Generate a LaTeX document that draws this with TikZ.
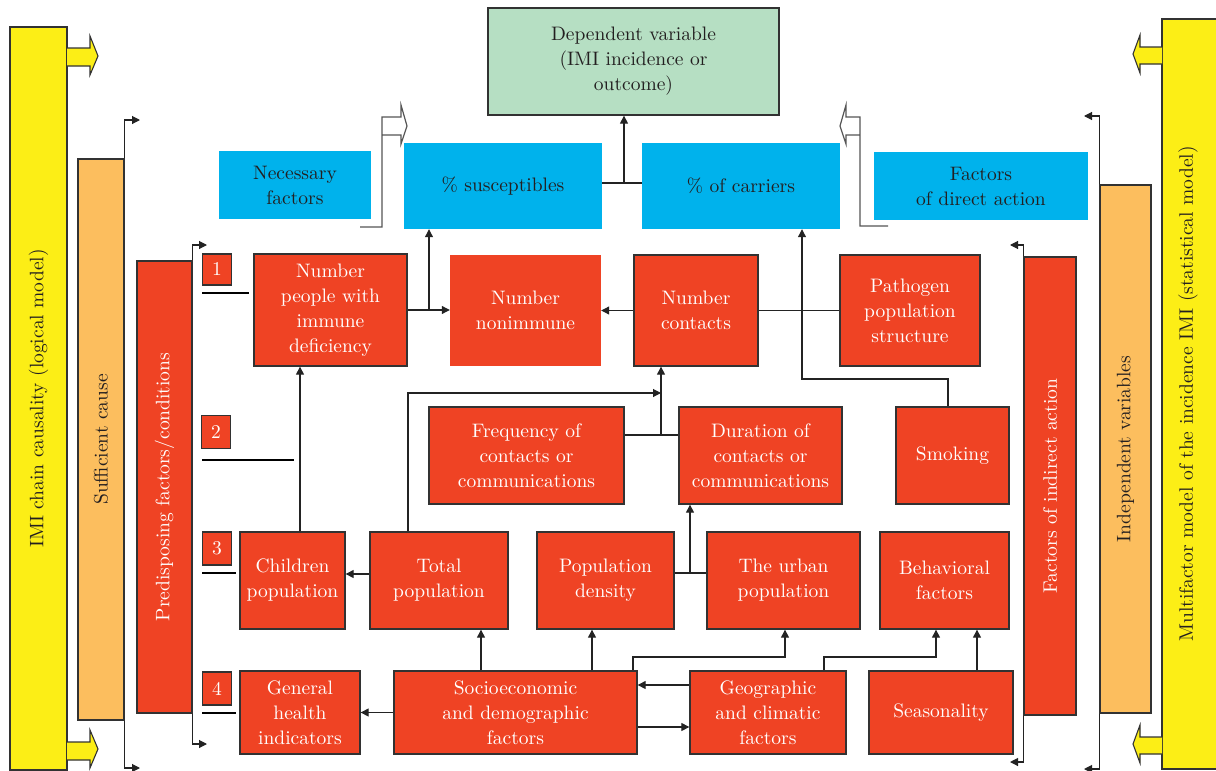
\documentclass[tikz,border=0pt]{standalone}
\usepackage{fontspec}
\setmainfont{lmroman10}[Extension=.otf, UprightFont=*-regular, BoldFont=*-bold, ItalicFont=*-italic, BoldItalicFont=*-bolditalic]
\usetikzlibrary{arrows.meta}
\definecolor{myred}{RGB}{239,67,36}
\definecolor{myblue}{RGB}{0,178,236}
\definecolor{myorange}{RGB}{252,190,94}
\definecolor{myyellow}{RGB}{252,238,22}
\definecolor{mygreen}{RGB}{182,223,195}
\definecolor{bordercol}{RGB}{50,50,50}
\definecolor{linecol}{RGB}{35,35,35}
\definecolor{txtdark}{RGB}{35,31,32}
\definecolor{hollowcol}{RGB}{85,85,85}
\newcommand\fs{\fontsize{19.5}{25}\selectfont}
\tikzset{
  box/.style={draw=bordercol, line width=1.3pt, inner sep=1pt, align=center, font=\fs},
  redbox/.style={box, fill=myred, text=white},
  rednb/.style={fill=myred, text=white, inner sep=1pt, align=center, font=\fs},
  bluebox/.style={fill=myblue, text=txtdark, inner sep=1pt, align=center, font=\fs},
  greenbox/.style={box, fill=mygreen, text=txtdark},
  bar/.style={draw=bordercol, line width=1.3pt, inner sep=0pt},
  conn/.style={draw=linecol, line width=1.1pt},
  arr/.style={conn, -{Triangle[length=8pt,width=8pt]}},
  uline/.style={draw=black, line width=2.6pt},
  hollow/.style={draw=hollowcol, line width=1.2pt, line join=miter},
  fat/.style={draw=bordercol, line width=1.1pt, fill=myyellow},
  vtext/.style={rotate=90, font=\fs, align=center}
}
\begin{document}
\begin{tikzpicture}[x=1pt,y=-1pt]
\useasboundingbox (0,0) rectangle (1216,771);

% ---- side bars ----
\node[bar, fill=myyellow, minimum width=57pt, minimum height=743pt] (ylL) at (38.5,398.5) {};
\node[vtext, text=txtdark] at (ylL.center) {IMI chain causality (logical model)};
\node[bar, fill=myorange, minimum width=46pt, minimum height=561pt] (orL) at (101,439.5) {};
\node[vtext, text=txtdark] at (orL.center) {Sufficient cause};
\node[bar, fill=myred, minimum width=55pt, minimum height=452pt] (rdL) at (164.5,487) {};
\node[vtext, text=white] at (rdL.center) {Predisposing factors/conditions};

\node[bar, fill=myred, minimum width=52pt, minimum height=458pt] (rdR) at (1050,486) {};
\node[vtext, text=white] at (rdR.center) {Factors of indirect action};
\node[bar, fill=myorange, minimum width=51pt, minimum height=528pt] (orR) at (1125.5,449) {};
\node[vtext, text=txtdark] at (orR.center) {Independent variables};
\node[bar, fill=myyellow, minimum width=58pt, minimum height=750pt] (ylR) at (1191,394) {};
\node[vtext, text=txtdark] at (1188,394) {Multifactor model of the incidence IMI (statistical model)};

% ---- fat yellow arrows ----
\draw[fat] (67,48) -- (90,48) -- (90,36) -- (98,56) -- (90,75) -- (90,66) -- (67,66);
\draw[fat] (67,742) -- (90,742) -- (90,730) -- (98,749) -- (90,768) -- (90,760) -- (67,760);
\draw[fat] (1162,47) -- (1140,47) -- (1140,35) -- (1133,54) -- (1140,73) -- (1140,64) -- (1162,64);
\draw[fat] (1162,737) -- (1140,737) -- (1140,725) -- (1133,744) -- (1140,763) -- (1140,754) -- (1162,754);

% ---- bracket arrows ----
\draw[arr] (orL.north east) |- (140,120);
\draw[arr] (orL.south east) |- (140,768);
\draw[arr] (rdL.north east) |- (207,245);
\draw[arr] (rdL.south east) |- (207,744);
\draw[arr] (rdR.north west) |- (1010,245);
\draw[arr] (rdR.south west) |- (1010,762);
\draw[arr] (orR.north west) |- (1084,116);
\draw[arr] (orR.south west) |- (1084,769);

% ---- top boxes ----
\node[greenbox, minimum width=291pt, minimum height=107pt] (dep) at (633.5,61.5) {Dependent variable\\(IMI incidence or\\outcome)};
\node[bluebox, minimum width=152pt, minimum height=68pt] (nec) at (295,185) {Necessary\\factors};
\node[bluebox, minimum width=198pt, minimum height=86pt] (sus) at (503,186) {\% susceptibles};
\node[bluebox, minimum width=198pt, minimum height=86pt] (car) at (741,186) {\% of carriers};
\node[bluebox, minimum width=214pt, minimum height=68pt] (dir) at (981,186) {Factors\\of direct action};

% hollow arrows
\coordinate (hn) at (382,227);
\draw[hollow] (360,227) -- (hn) -- (382,117) -- (401,117) -- (401,105) -- (407,126) -- (401,144) -- (401,135) -- (382,135);
\coordinate (hd) at (860,226);
\draw[hollow] (888,226) -- (hd) -- (860,117) -- (846,117) -- (846,105) -- (840,126) -- (846,144) -- (846,135) -- (860,135);

% ---- numbers ----
\node[redbox, minimum width=29pt, minimum height=31pt] (n1) at (217,269.5) {1};
\node[redbox, minimum width=29pt, minimum height=33pt] (n2) at (216,432) {2};
\node[redbox, minimum width=29pt, minimum height=33pt] (n3) at (217,548.5) {3};
\node[redbox, minimum width=29pt, minimum height=33pt] (n4) at (217,688.5) {4};
\draw[uline] (202,293) -- (249,293);
\draw[uline] (202,460) -- (294,460);
\draw[uline] (202,573) -- (236,573);
\draw[uline] (202,713) -- (236,713);

% ---- row 1 ----
\node[redbox, minimum width=153pt, minimum height=112pt] (imm) at (330.5,310) {Number\\people with\\immune\\deficiency};
\node[rednb, minimum width=151pt, minimum height=111pt] (non) at (525.5,310.5) {Number\\nonimmune};
\node[redbox, minimum width=124pt, minimum height=111pt] (con) at (696,310.5) {Number\\contacts};
\node[redbox, minimum width=140pt, minimum height=111pt] (pat) at (910,310.5) {Pathogen\\population\\structure};

% ---- row 2 ----
\node[redbox, minimum width=195pt, minimum height=97pt] (fre) at (526.5,455.5) {Frequency of\\contacts or\\communications};
\node[redbox, minimum width=163pt, minimum height=97pt] (dur) at (760.5,455.5) {Duration of\\contacts or\\communications};
\node[redbox, minimum width=113pt, minimum height=97pt] (smo) at (952.5,455.5) {Smoking};

% ---- row 3 ----
\node[redbox, minimum width=105pt, minimum height=97pt] (chi) at (292.5,580.5) {Children\\population};
\node[redbox, minimum width=138pt, minimum height=97pt] (tot) at (439,580.5) {Total\\population};
\node[redbox, minimum width=137pt, minimum height=97pt] (den) at (605.5,580.5) {Population\\density};
\node[redbox, minimum width=153pt, minimum height=97pt] (urb) at (783.5,580.5) {The urban\\population};
\node[redbox, minimum width=129pt, minimum height=97pt] (beh) at (944.5,580.5) {Behavioral\\factors};

% ---- row 4 ----
\node[redbox, minimum width=120pt, minimum height=83pt] (gen) at (300,712.5) {General\\health\\indicators};
\node[redbox, minimum width=243pt, minimum height=83pt] (soc) at (515.5,712.5) {Socioeconomic\\and demographic\\factors};
\node[redbox, minimum width=156pt, minimum height=83pt] (geo) at (768,712.5) {Geographic\\and climatic\\factors};
\node[redbox, minimum width=144pt, minimum height=83pt] (sea) at (941,712.5) {Seasonality};

% ---- connectors ----
\coordinate (m) at (624,183);
\draw[conn] (sus.east |- m) -- (car.west |- m);
\draw[arr] (m) -- (m |- dep.south);

\coordinate (j1) at (429,310);
\draw[arr] (imm.east |- j1) -- (non.west |- j1);
\draw[arr] (j1) -- (j1 |- sus.south);
\draw[arr] (con.west) -- (non.east);
\draw[conn] (pat.west) -- (con.east);

\coordinate (k) at (802,379);
\draw[arr] ([xshift=-4.5pt]smo.north) |- (k) -- (k |- car.south);

\coordinate (f) at (661,435);
\draw[conn] (fre.east |- f) -- (dur.west |- f);
\draw[arr] (f) -- (f |- con.south);
\coordinate (t) at (661,393);
\draw[arr] ([xshift=-31pt]tot.north) |- (t);

\coordinate (c1) at (300,0);
\draw[arr] (chi.north -| c1) -- (imm.south -| c1);
\coordinate (c2) at (0,574);
\draw[arr] (tot.west |- c2) -- (chi.east |- c2);

\coordinate (d) at (690,573);
\draw[conn] (den.east |- d) -- (urb.west |- d);
\draw[arr] (d) -- (d |- dur.south);

\draw[arr] (soc.west) -- (gen.east);
\coordinate (x1) at (481,0);
\draw[arr] (soc.north -| x1) -- (tot.south -| x1);
\coordinate (x2) at (592,0);
\draw[arr] (soc.north -| x2) -- (den.south -| x2);
\coordinate (x3) at (633,0);
\coordinate (u) at (785,657);
\draw[arr] (soc.north -| x3) |- (u) -- (u |- urb.south);

\coordinate (y1) at (0,685);
\draw[arr] (geo.west |- y1) -- (soc.east |- y1);
\coordinate (y2) at (0,727);
\draw[arr] (soc.east |- y2) -- (geo.west |- y2);

\coordinate (x4) at (824,0);
\coordinate (b) at (936,657);
\draw[arr] (geo.north -| x4) |- (b) -- (b |- beh.south);
\coordinate (x5) at (977,0);
\draw[arr] (sea.north -| x5) -- (beh.south -| x5);
\end{tikzpicture}
\end{document}
